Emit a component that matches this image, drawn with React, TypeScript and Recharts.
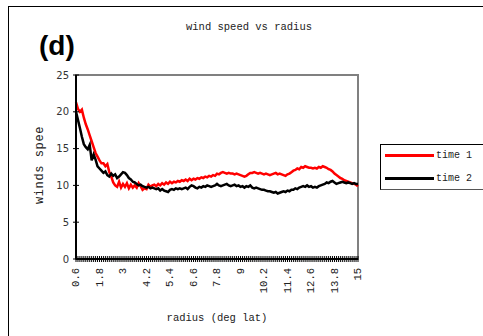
import React from 'react';
import { LineChart, Line, XAxis, YAxis, ReferenceArea } from 'recharts';

const radius = [
  0.6, 0.7, 0.8, 0.9, 1, 1.1, 1.2, 1.3, 1.4, 1.5,
  1.6, 1.7, 1.8, 1.9, 2, 2.1, 2.2, 2.3, 2.4, 2.5,
  2.6, 2.7, 2.8, 2.9, 3, 3.1, 3.2, 3.3, 3.4, 3.5,
  3.6, 3.7, 3.8, 3.9, 4, 4.1, 4.2, 4.3, 4.4, 4.5,
  4.6, 4.7, 4.8, 4.9, 5, 5.1, 5.2, 5.3, 5.4, 5.5,
  5.6, 5.7, 5.8, 5.9, 6, 6.1, 6.2, 6.3, 6.4, 6.5,
  6.6, 6.7, 6.8, 6.9, 7, 7.1, 7.2, 7.3, 7.4, 7.5,
  7.6, 7.7, 7.8, 7.9, 8, 8.1, 8.2, 8.3, 8.4, 8.5,
  8.6, 8.7, 8.8, 8.9, 9, 9.1, 9.2, 9.3, 9.4, 9.5,
  9.6, 9.7, 9.8, 9.9, 10, 10.1, 10.2, 10.3, 10.4, 10.5,
  10.6, 10.7, 10.8, 10.9, 11, 11.1, 11.2, 11.3, 11.4, 11.5,
  11.6, 11.7, 11.8, 11.9, 12, 12.1, 12.2, 12.3, 12.4, 12.5,
  12.6, 12.7, 12.8, 12.9, 13, 13.1, 13.2, 13.3, 13.4, 13.5,
  13.6, 13.7, 13.8, 13.9, 14, 14.1, 14.2, 14.3, 14.4, 14.5,
  14.6, 14.7, 14.8, 14.9, 15,
];

const time1 = [
  21.3, 20.4, 20.0, 20.3, 19.2, 18.3, 17.6, 16.8, 16.0, 15.2,
  14.4, 13.9, 13.4, 13.0, 13.0, 12.6, 12.9, 11.8, 11.2, 10.4,
  10.0, 9.8, 10.5, 9.7, 10.2, 9.8, 10.3, 9.6, 10.1, 9.7,
  10.0, 9.7, 10.3, 9.9, 9.4, 9.6, 9.5, 10.1, 9.8, 10.0,
  10.1, 9.9, 10.2, 10.0, 10.3, 10.1, 10.4, 10.2, 10.5, 10.3,
  10.5, 10.4, 10.6, 10.5, 10.7, 10.6, 10.8, 10.6, 10.9, 10.7,
  10.9, 10.8, 11.0, 10.9, 11.1, 11.0, 11.2, 11.1, 11.3, 11.2,
  11.4, 11.3, 11.6, 11.5, 11.7, 11.8, 11.7, 11.6, 11.7, 11.6,
  11.6, 11.5, 11.6, 11.5, 11.4, 11.3, 11.2, 11.3, 11.5, 11.7,
  11.7, 11.8, 11.7, 11.6, 11.7, 11.6, 11.5, 11.6, 11.5, 11.4,
  11.5, 11.6, 11.7, 11.5, 11.6, 11.5, 11.4, 11.3, 11.5, 11.6,
  11.8, 12.0, 12.1, 12.3, 12.2, 12.5, 12.4, 12.6, 12.5, 12.4,
  12.4, 12.3, 12.4, 12.3, 12.5, 12.4, 12.6, 12.5, 12.4, 12.2,
  12.1, 11.9, 11.6, 11.4, 11.2, 11.0, 10.9, 10.7, 10.6, 10.5,
  10.4, 10.3, 10.2, 10.1, 9.9,
];

const time2 = [
  20.0, 18.9, 17.8, 16.6, 15.6, 15.2, 14.9, 15.5, 13.4, 14.2,
  13.5, 12.6, 12.3, 12.0, 11.7, 11.9, 11.4, 11.2, 11.6, 11.3,
  11.5, 11.0, 11.2, 11.5, 11.8, 11.7, 11.4, 11.0, 10.8, 10.5,
  10.4, 10.2, 10.0, 10.1, 9.9, 9.8, 9.7, 9.8, 9.6, 9.7,
  9.6, 9.5, 9.6, 9.3, 9.5, 9.3, 9.2, 9.1, 9.4, 9.5,
  9.4, 9.6, 9.5, 9.6, 9.5, 9.6, 9.7, 9.5, 9.8, 10.0,
  9.9, 9.7, 9.6, 9.8, 9.7, 9.9, 9.8, 10.0, 9.9, 9.8,
  9.9, 10.0, 10.2, 10.0, 9.9, 10.0, 10.1, 10.2, 10.0, 9.9,
  10.0, 10.1, 9.9, 10.0, 9.8, 9.9, 9.7, 9.9, 9.8, 10.0,
  9.7, 9.6, 9.7, 9.6, 9.5, 9.4, 9.4, 9.3, 9.2, 9.2,
  9.1, 9.0, 9.1, 8.9, 9.0, 9.1, 9.2, 9.1, 9.3, 9.2,
  9.4, 9.4, 9.6, 9.5, 9.7, 9.8, 9.9, 9.8, 10.0, 9.8,
  9.9, 9.7, 9.8, 9.7, 9.9, 10.0, 10.1, 10.2, 10.4, 10.3,
  10.5, 10.6, 10.4, 10.2, 10.3, 10.4, 10.5, 10.4, 10.3, 10.4,
  10.3, 10.2, 10.3, 10.2, 10.2,
];

const xTickLabels = ['0.6', '1.8', '3', '4.2', '5.4', '6.6', '7.8', '9', '10.2', '11.4', '12.6', '13.8', '15'];
const yTicks = [0, 5, 10, 15, 20, 25];

const series = [
  { key: 't1', name: 'time 1', color: '#ff0000' },
  { key: 't2', name: 'time 2', color: '#000000' },
];

const data = radius.map((r, i) => ({ r: String(r), t1: time1[i], t2: time2[i] }));

const MONO = '"Liberation Mono", "Courier New", monospace';
const SANS = '"DejaVu Sans", Verdana, sans-serif';
const TEXT = '#222';

const XTick = (props: any) => {
  const { x, y, payload } = props;
  const v = String(payload.value);
  const show = xTickLabels.includes(v);
  return (
    <g>
      <line x1={x} x2={x} y1={y - 3} y2={y + 3} stroke="#000" strokeWidth={1} />
      {show && (
        <text
          x={x}
          y={y + 9}
          transform={`rotate(-90 ${x} ${y + 9})`}
          textAnchor="end"
          dominantBaseline="central"
          fontFamily={MONO}
          fontSize={10.5}
          fill={TEXT}
        >
          {v}
        </text>
      )}
    </g>
  );
};

const YTick = (props: any) => {
  const { x, y, payload } = props;
  return (
    <g>
      <line x1={x - 3} x2={x + 3} y1={y} y2={y} stroke="#000" strokeWidth={1} />
      <text x={x - 7} y={y} textAnchor="end" dominantBaseline="central" fontFamily={SANS} fontSize={10} fill="#333">
        {payload.value}
      </text>
    </g>
  );
};

export default function App() {
  return (
    <div style={{ position: 'fixed', left: 0, top: 0, width: 483, height: 336, overflow: 'hidden', background: '#fff' }}>
      <div style={{ position: 'absolute', left: 8, top: 6, width: 600, height: 400, borderLeft: '1px solid #000', borderTop: '1px solid #000' }} />
      <div style={{ position: 'absolute', left: 0, top: 20, width: 498, textAlign: 'center', fontFamily: MONO, fontSize: 10.5, lineHeight: '14px', color: TEXT }}>
        wind speed vs radius
      </div>
      <div style={{ position: 'absolute', left: 39, top: 29, fontFamily: '"Liberation Sans", Arial, sans-serif', fontWeight: 'bold', fontSize: 28, lineHeight: '34px', color: '#000' }}>
        (d)
      </div>
      <div style={{ position: 'absolute', left: 0, top: 0 }}>
        <LineChart width={483} height={336} data={data} margin={{ top: 75, right: 125, bottom: 0, left: 0 }}>
          <ReferenceArea x1="0.6" x2="15" y1={0} y2={25} fill="none" stroke="#808080" strokeWidth={2} />
          <XAxis
            dataKey="r"
            interval={0}
            tick={<XTick />}
            tickLine={false}
            tickSize={0}
            tickMargin={0}
            height={77}
            axisLine={{ stroke: '#000', strokeWidth: 2 }}
            padding={{ left: 0, right: 0 }}
            label={{
              content: (p: any) => {
                const vb = p.viewBox;
                return (
                  <text x={vb.x + vb.width / 2} y={vb.y + vb.height - 15} textAnchor="middle" fontFamily={MONO} fontSize={10.5} fill={TEXT}>
                    radius (deg lat)
                  </text>
                );
              },
            }}
          />
          <YAxis
            domain={[0, 25]}
            ticks={yTicks}
            tick={<YTick />}
            tickLine={false}
            tickSize={0}
            tickMargin={0}
            width={76}
            axisLine={{ stroke: '#000', strokeWidth: 2 }}
            allowDataOverflow
            label={{
              content: (p: any) => {
                const vb = p.viewBox;
                const cx = vb.x + 40;
                const cy = vb.y + vb.height / 2 - 2;
                return (
                  <text x={cx} y={cy} transform={`rotate(-90 ${cx} ${cy})`} textAnchor="middle" dominantBaseline="central" fontFamily={MONO} fontSize={12} letterSpacing={0.6} fill={TEXT}>
                    winds spee
                  </text>
                );
              },
            }}
          />
          {series.map((s) => (
            <Line key={s.key} type="linear" dataKey={s.key} name={s.name} stroke={s.color} strokeWidth={2.5} dot={false} isAnimationActive={false} />
          ))}
        </LineChart>
      </div>
      <div style={{ position: 'absolute', left: 380, top: 144, width: 110, height: 46, border: '1px solid #000', borderBottomColor: '#555', boxSizing: 'border-box', background: '#fff' }}>
        {series.map((s, i) => (
          <div key={s.key} style={{ position: 'absolute', left: 4, top: 3 + i * 23, height: 14, display: 'flex', alignItems: 'center' }}>
            <div style={{ width: 49, height: 3, background: s.color }} />
            <span style={{ marginLeft: 2, fontFamily: MONO, fontSize: 10, color: TEXT, whiteSpace: 'nowrap' }}>{s.name}</span>
          </div>
        ))}
      </div>
    </div>
  );
}
